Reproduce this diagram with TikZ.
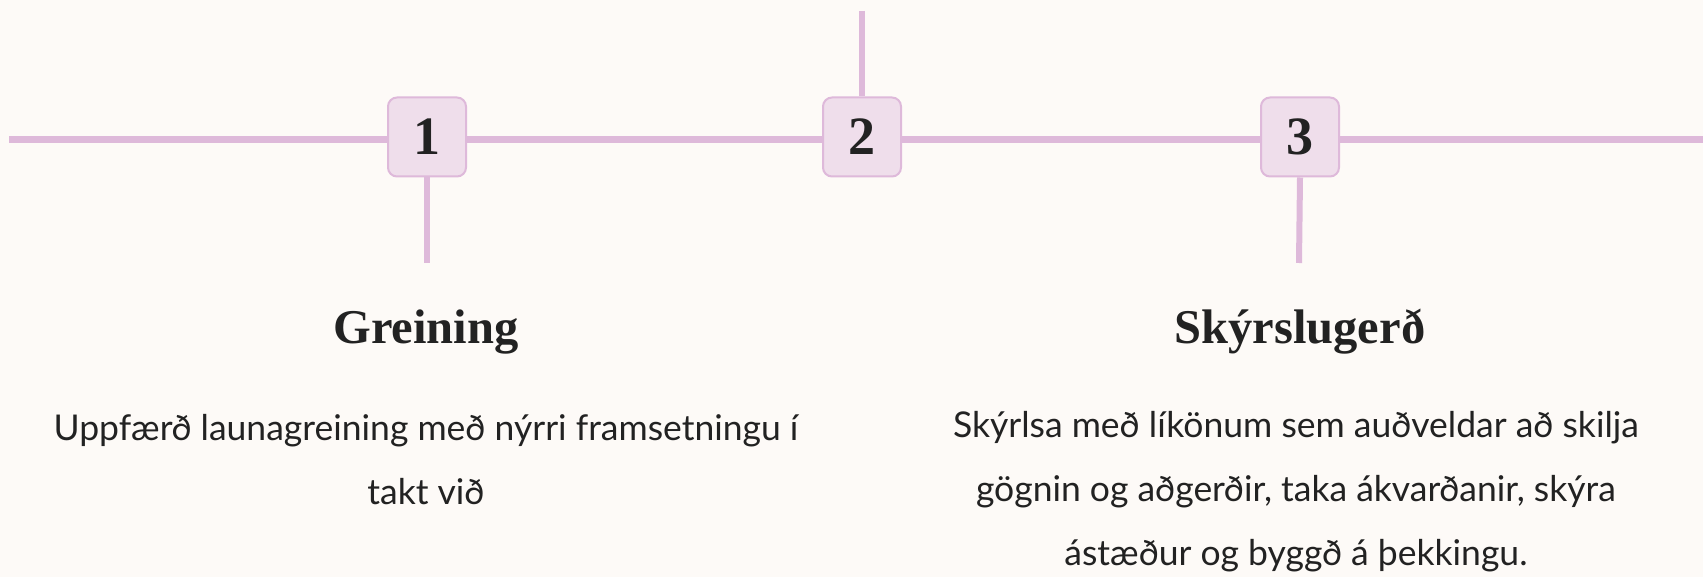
\documentclass[tikz,border=0pt]{standalone}
\usepackage{fontspec}
\setmainfont{Lato}
\newfontfamily\titlefont{Liberation Serif}
\usetikzlibrary{positioning}
\definecolor{bgcol}{HTML}{FDFAF7}
\definecolor{linecol}{HTML}{DEB9DA}
\definecolor{boxcol}{HTML}{EFDEEB}
\definecolor{inkcol}{HTML}{222222}
\tikzset{
numbox/.style={
  draw=linecol, fill=boxcol, line width=2pt,
  rounded corners=9pt,
  minimum width=78pt, minimum height=79pt, inner sep=0pt,
  text=inkcol, font=\titlefont\bfseries\fontsize{54}{54}\selectfont
},
track/.style={draw=linecol, line width=7pt},
stem/.style={draw=linecol, line width=6pt},
heading/.style={text=inkcol, inner sep=0pt, font=\titlefont\bfseries\fontsize{48.5}{48.5}\selectfont},
blurb/.style={text=inkcol, align=center, inner sep=0pt, font=\fontsize{35.5}{64}\selectfont},
}

\begin{document}
\begin{tikzpicture}[x=1pt,y=-1pt]
    \fill[bgcol] (0,0) rectangle (1703,577);
    \useasboundingbox (0,0) rectangle (1703,577);
    % ends of the lines
    \coordinate (lstart) at (9,140);
    \coordinate (rend) at (1703,140);
    \coordinate (top2) at (862,11);
    \coordinate (foot1) at (427,263);
    \coordinate (foot3) at (1299,263);
    % the steps
    \node[numbox] (num1) at (427,137) {1};
    \node[numbox] (num2) at (862,137) {2};
    \node[numbox] (num3) at (1300,137) {3};
    \draw[track] (lstart) -- (num1.west |- lstart);
    \draw[track] (num1.east |- lstart) -- (num2.west |- lstart);
    \draw[track] (num2.east |- lstart) -- (num3.west |- lstart);
    \draw[track] (num3.east |- lstart) -- (rend);
    \draw[stem] (top2) -- (num2.north);
    \draw[stem] (num1.south) -- (foot1);
    \draw[stem] (num3.south) -- (foot3);
    % texts
    \node[heading] (title1) at (426,332) {Greining};
    \node[heading] (title3) at (1300,332) {Skýrslugerð};
    \node[blurb] (body1) at (426,460) {Uppfærð launagreining með nýrri framsetningu í\\takt við};
    \node[blurb] (body3) at (1296,492) {Skýrlsa með líkönum sem auðveldar að skilja\\gögnin og aðgerðir, taka ákvarðanir, skýra\\ástæður og byggð á þekkingu.};
\end{tikzpicture}
\end{document}
